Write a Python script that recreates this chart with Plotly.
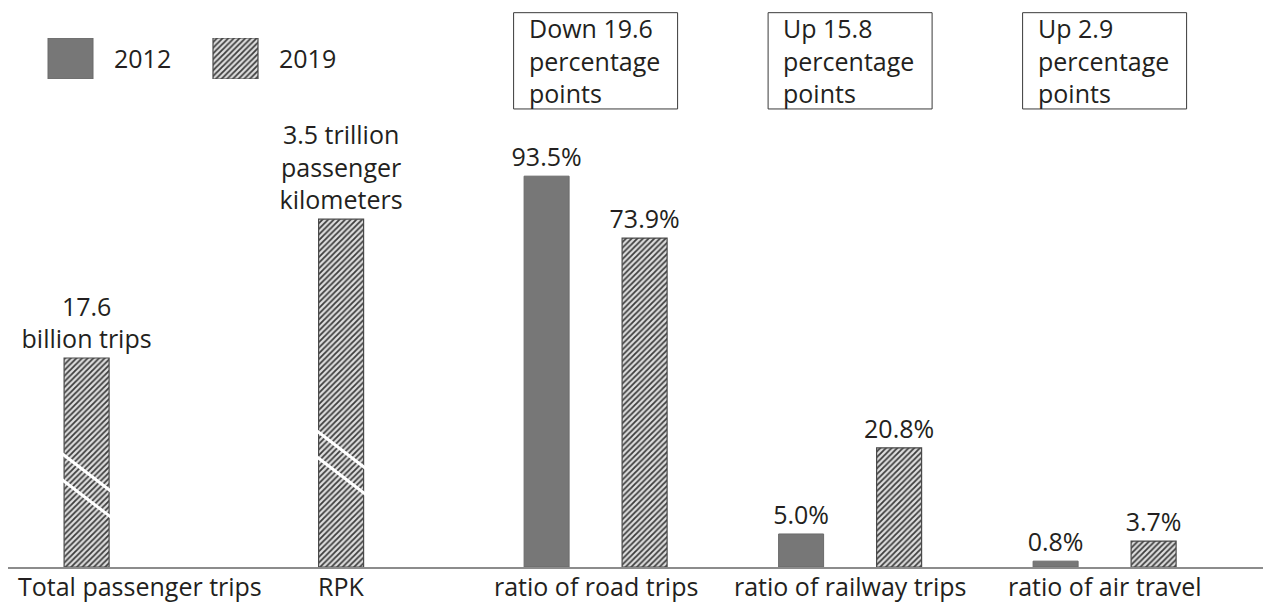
import plotly.graph_objects as go

categories = ["Total passenger trips", "RPK", "ratio of road trips",
              "ratio of railway trips", "ratio of air travel"]

# totals, 2019 only; drawn heights read off the source (it is not to scale
# between groups), in the same units as road 2012 = 93.5
total_cats = categories[:2]
total_heights = [50.0, 83.2]
total_labels = ["17.6<br>billion trips", "3.5 trillion<br>passenger<br>kilometers"]
break_at = [19.5, 25.0]

ratio_cats = categories[2:]
heights_2012 = [93.5, 7.9, 1.4]
heights_2019 = [78.7, 28.5, 6.2]
labels_2012 = ["93.5%", "5.0%", "0.8%"]
labels_2019 = ["73.9%", "20.8%", "3.7%"]
changes = ["Down 19.6<br>percentage<br>points",
           "Up 15.8<br>percentage<br>points",
           "Up 2.9<br>percentage<br>points"]

legend_years = ["2012", "2019"]

# figure geometry in px (the page body adds an 8px margin on top/left)
W, H = 1263, 598
BASE = 559
PX_PER_UNIT = 4.18
CAT_STEP = 254.5
FIRST_CAT = 78.6
BAR_W = 45 / CAT_STEP
GAP = 53 / CAT_STEP
LEG_STEP = 165
LEG_FIRST = 62.5
BOX_HALF = 82 / CAT_STEP
BOX_TOP, BOX_BOTTOM = 5, 108

INK = "#231f20"
FONT = "Open Sans, sans-serif"
FS = 25
SOLID = "#777777"
hatch = dict(shape="/", fgcolor="#3d3d3d", bgcolor="#dedede", size=4,
             solidity=0.45, fillmode="replace")
hatch_line = dict(color="#4a4a4a", width=1.2)

fig = go.Figure()

fig.add_trace(go.Bar(
    x=total_cats, y=total_heights, width=BAR_W, offset=-BAR_W / 2,
    marker=dict(color="#dedede", pattern=hatch, line=hatch_line),
    text=total_labels, textposition="outside", constraintext="none",
    textfont=dict(size=FS, color=INK), cliponaxis=False, showlegend=False,
))
fig.add_trace(go.Bar(
    x=ratio_cats, y=heights_2012, width=BAR_W, offset=-GAP / 2 - BAR_W,
    marker=dict(color=SOLID, line=dict(color="#6a6a6a", width=1)),
    text=labels_2012, textposition="outside", constraintext="none",
    textfont=dict(size=FS, color=INK), cliponaxis=False, showlegend=False,
))
fig.add_trace(go.Bar(
    x=ratio_cats, y=heights_2019, width=BAR_W, offset=GAP / 2,
    marker=dict(color="#dedede", pattern=hatch, line=hatch_line),
    text=labels_2019, textposition="outside", constraintext="none",
    textfont=dict(size=FS, color=INK), cliponaxis=False, showlegend=False,
))

# white "broken axis" cuts through the two total bars
for i, level in enumerate(break_at):
    for k in (1, -1):
        fig.add_shape(
            type="line", xref="x", yref="y",
            x0=i - BAR_W / 2 - 0.01, x1=i + BAR_W / 2 + 0.01,
            y0=level + 3.1 * k + 4.6, y1=level + 3.1 * k - 4.6,
            line=dict(color="white", width=3),
        )

# category labels (first one nudged right so it is not cut off)
for i, cat in enumerate(categories):
    fig.add_annotation(
        x=i, xref="x", y=0, yref="y", yanchor="middle", yshift=-19,
        xshift=53 if i == 0 else 0, text=cat, showarrow=False,
        font=dict(size=FS, color=INK),
    )

# boxed change notes above each ratio group
for cat, note in zip(ratio_cats, changes):
    i = categories.index(cat)
    fig.add_shape(
        type="rect", xref="x", yref="paper",
        x0=i - BOX_HALF, x1=i + BOX_HALF,
        y0=1 - BOX_BOTTOM / H, y1=1 - BOX_TOP / H,
        line=dict(color="#3a3a3a", width=1), fillcolor="white",
    )
    fig.add_annotation(
        x=i, xref="x", y=1 - (BOX_TOP + BOX_BOTTOM) / 2 / H, yref="paper",
        xanchor="left", yanchor="middle", xshift=-69,
        text=note, showarrow=False, align="left",
        font=dict(size=FS, color=INK),
    )

# legend swatches on their own small axes
fig.add_trace(go.Bar(
    x=legend_years[:1], y=[1], xaxis="x2", yaxis="y2", width=45 / LEG_STEP,
    marker=dict(color=SOLID, line=dict(color="#6a6a6a", width=1)),
    showlegend=False, hoverinfo="skip",
))
fig.add_trace(go.Bar(
    x=legend_years[1:], y=[1], xaxis="x2", yaxis="y2", width=45 / LEG_STEP,
    marker=dict(color="#dedede", pattern=hatch, line=hatch_line),
    showlegend=False, hoverinfo="skip",
))
for i, yr in enumerate(legend_years):
    fig.add_annotation(
        x=i, xref="x2", y=0.5, yref="y2", xanchor="left", yanchor="middle",
        xshift=41, text=yr, showarrow=False, font=dict(size=FS, color=INK),
    )

fig.update_layout(
    width=W, height=H,
    barmode="overlay",
    paper_bgcolor="white", plot_bgcolor="white",
    font=dict(family=FONT, color=INK),
    margin=dict(l=0, r=0, t=0, b=H - BASE),
    xaxis=dict(
        type="category", categoryorder="array", categoryarray=categories,
        range=[-FIRST_CAT / CAT_STEP, (W - FIRST_CAT) / CAT_STEP],
        showticklabels=False, ticks="", showgrid=False, zeroline=False,
        showline=True, linecolor="#8c8c8c", linewidth=2,
    ),
    yaxis=dict(range=[0, BASE / PX_PER_UNIT], visible=False),
    xaxis2=dict(
        type="category", categoryorder="array", categoryarray=legend_years,
        domain=[0, 1], anchor="y2",
        range=[-LEG_FIRST / LEG_STEP, (W - LEG_FIRST) / LEG_STEP],
        visible=False,
    ),
    yaxis2=dict(domain=[1 - 76 / H, 1 - 32 / H], anchor="x2", range=[0, 1],
                visible=False),
)

fig.write_html("out.html")
